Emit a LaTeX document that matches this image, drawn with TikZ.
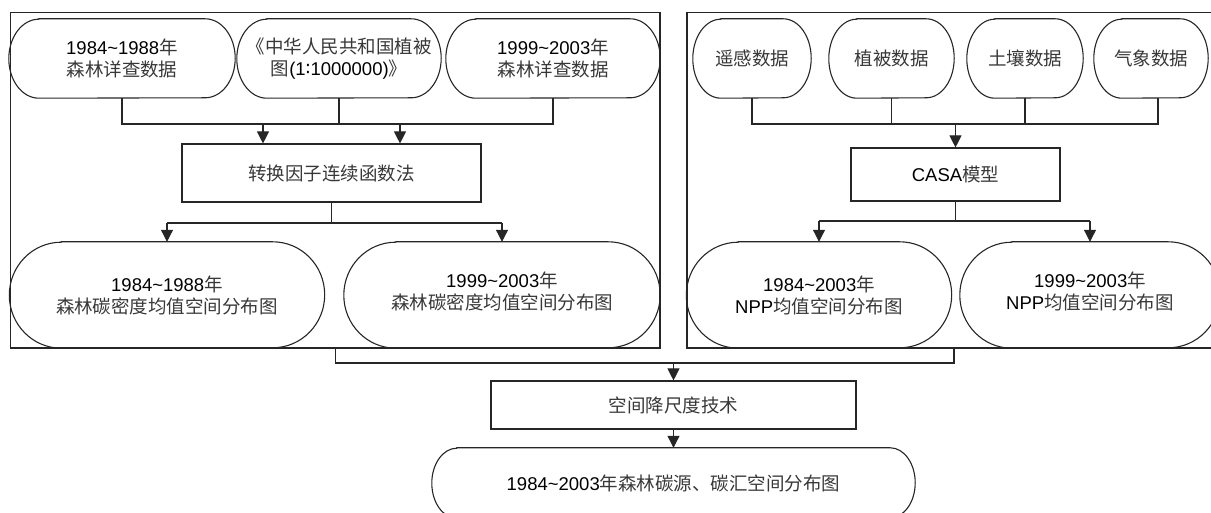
\documentclass[tikz,border=0pt]{standalone}
\usepackage{fontspec}
\setmainfont{Liberation Sans}
\newfontfamily\cjkfont{Noto Sans CJK SC}
\newfontfamily\symfont{DejaVu Sans}
\usetikzlibrary{calc,arrows.meta}
\definecolor{cjkc}{gray}{0.22}
\definecolor{lnc}{gray}{0.15}
\newcommand\cj[1]{{\cjkfont\color{cjkc}#1}}
\tikzset{
  txt/.style={align=center, inner sep=2pt, font=\fontsize{18.5}{22}\selectfont},
  shapeline/.style={draw=lnc, line width=1.1pt},
  framebox/.style={draw=lnc, line width=1.3pt, inner sep=0pt},
  rectbox/.style={txt, draw=lnc, line width=1.1pt},
  ln/.style={draw=lnc, line width=1.1pt},
  arr/.style={draw=lnc, line width=1.1pt, -{Triangle[length=12pt,width=12pt]}},
}
% name, x, y, width, height, corner x radius, text
\newcommand\termnode[7]{%
  \node[txt, minimum width=#4pt, minimum height=#5pt] (#1) at (#2,#3) {#7};
  \draw[shapeline] ($(#1.north west)+(#6,0)$) -- ($(#1.north east)+(-#6,0)$)
    arc[start angle=90, end angle=-90, x radius=#6, y radius=#5/2]
    -- ($(#1.south west)+(#6,0)$)
    arc[start angle=270, end angle=90, x radius=#6, y radius=#5/2] -- cycle;
}
\begin{document}
\begin{tikzpicture}[x=1pt,y=1pt]
\useasboundingbox (0,0) rectangle (1211,513);
% frames
\node[framebox, minimum width=649.3pt, minimum height=335.3pt] (FL) at (335.35,332.65) {};
\node[framebox, minimum width=525pt, minimum height=335.3pt] (FR) at (949.5,332.65) {};
% left group
\termnode{n1}{122}{454.5}{226}{79}{30}{1984\textasciitilde1988\cj{年}\\\cj{森林详查数据}}
\termnode{n2}{339}{454.5}{204}{79}{30}{\cj{《中华人民共和国植被}\\\cj{图}(1{\symfont ∶}1000000)\cj{》}}
\termnode{n3}{553}{454.5}{214}{79}{30}{1999\textasciitilde2003\cj{年}\\\cj{森林详查数据}}
\node[rectbox, minimum width=299pt, minimum height=58pt] (A) at (331.5,340) {\cj{转换因子连续函数法}};
\termnode{n4}{167}{218}{315}{106}{52}{1984\textasciitilde1988\cj{年}\\\cj{森林碳密度均值空间分布图}}
\termnode{n5}{502}{218}{316}{106}{52}{1999\textasciitilde2003\cj{年}\\\cj{森林碳密度均值空间分布图}\\[-14pt]}
% right group
\termnode{r1}{752}{454.5}{118}{79}{28}{\cj{遥感数据}}
\termnode{r2}{891.5}{454.5}{125}{79}{28}{\cj{植被数据}}
\termnode{r3}{1025}{454.5}{116}{79}{28}{\cj{土壤数据}}
\termnode{r4}{1151}{454.5}{114}{79}{28}{\cj{气象数据}}
\node[rectbox, minimum width=209pt, minimum height=53pt] (C) at (955.5,338.5) {CASA\cj{模型}};
\termnode{r5}{819}{218}{265}{106}{52}{1984\textasciitilde2003\cj{年}\\NPP\cj{均值空间分布图}}
\termnode{r6}{1090}{218}{260}{106}{52}{1999\textasciitilde2003\cj{年}\\NPP\cj{均值空间分布图}\\[-14pt]}
% bottom
\node[rectbox, minimum width=365pt, minimum height=48pt] (B) at (673.5,108) {\cj{空间降尺度技术}};
\termnode{F}{673.5}{30}{483}{70}{25}{1984\textasciitilde2003\cj{年森林碳源、碳汇空间分布图}}
% bus coordinates
\coordinate (busL) at (0,389);
\coordinate (brL) at (0,290);
\coordinate (busR) at (0,389);
\coordinate (brR) at (0,292);
\coordinate (bb) at (0,150);
\coordinate (aL) at (263,389);
\coordinate (aR) at (400,389);
\coordinate (r4d) at ($(r4.south)+(7,0)$);
\coordinate (FRd) at ($(FR.south)+(4.5,0)$);
% left connectors
\draw[ln] (n1.south) -- (n1.south |- busL) -- (n3.south |- busL) -- (n3.south);
\draw[ln] (n2.south) -- (n2.south |- busL);
\draw[arr] (aL) -- (aL |- A.north);
\draw[arr] (aR) -- (aR |- A.north);
\draw[ln] (A.south) -- (A.south |- brL);
\draw[ln] (n4.north |- brL) -- (n5.north |- brL);
\draw[arr] (n4.north |- brL) -- (n4.north);
\draw[arr] (n5.north |- brL) -- (n5.north);
% right connectors
\draw[ln] (r1.south) -- (r1.south |- busR) -- (r4d |- busR) -- (r4d);
\draw[ln] (r2.south) -- (r2.south |- busR);
\draw[ln] (r3.south) -- (r3.south |- busR);
\draw[arr] (C.north |- busR) -- (C.north);
\draw[ln] (C.south) -- (C.south |- brR);
\draw[ln] (r5.north |- brR) -- (r6.north |- brR);
\draw[arr] (r5.north |- brR) -- (r5.north);
\draw[arr] (r6.north |- brR) -- (r6.north);
% bottom connectors
\draw[ln] (FL.south) -- (FL.south |- bb) -- (FRd |- bb) -- (FRd);
\draw[arr] (B.north |- bb) -- (B.north);
\draw[arr] (B.south) -- (F.north);
\end{tikzpicture}
\end{document}
